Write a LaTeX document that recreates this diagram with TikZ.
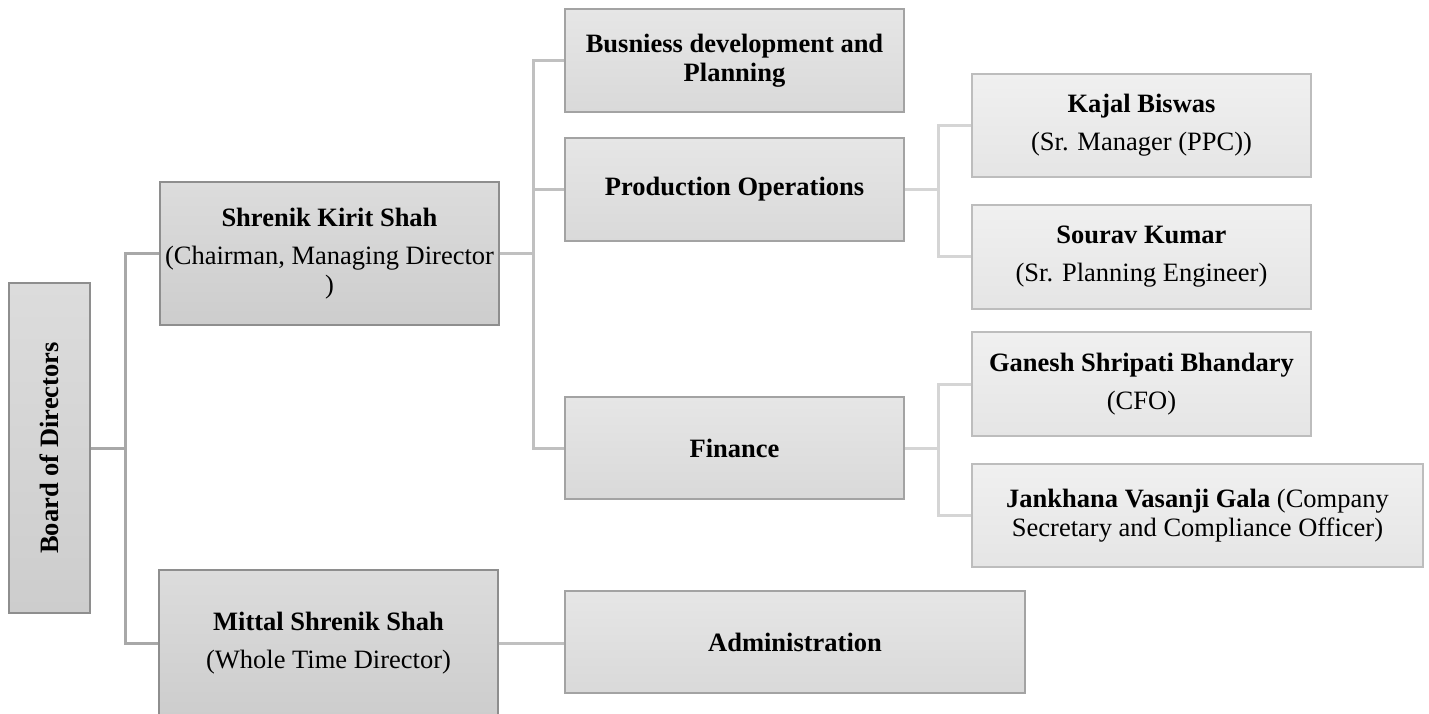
\documentclass[tikz,border=0pt]{standalone}
\usepackage{fontspec}
\setmainfont{Liberation Serif}
\usepackage{graphicx}
\usepackage{tikz}
\usetikzlibrary{positioning}
\definecolor{LevelOneTop}{HTML}{DCDCDC}
\definecolor{LevelOneBottom}{HTML}{CDCDCD}
\definecolor{LevelOneRule}{HTML}{8E8E8E}
\definecolor{LevelTwoTop}{HTML}{E6E6E6}
\definecolor{LevelTwoBottom}{HTML}{D9D9D9}
\definecolor{LevelTwoRule}{HTML}{A3A3A3}
\definecolor{LevelThreeTop}{HTML}{F0F0F0}
\definecolor{LevelThreeBottom}{HTML}{E5E5E5}
\definecolor{LevelThreeRule}{HTML}{BDBDBD}
\definecolor{LinkOne}{HTML}{A8A8A8}
\definecolor{LinkTwo}{HTML}{C0C0C0}
\definecolor{LinkThree}{HTML}{D5D5D5}

\begin{document}
\begin{tikzpicture}[x=1pt, y=-1pt, every node/.style={font=\fontsize{26.5}{29}\selectfont}]
  \tikzstyle{boxone}=[rectangle, draw=LevelOneRule, line width=1.8pt, top color=LevelOneTop,
  bottom color=LevelOneBottom, minimum width=339pt, align=center, inner sep=0pt]
  \tikzstyle{boxtwo}=[boxone, draw=LevelTwoRule, top color=LevelTwoTop, bottom color=LevelTwoBottom,
  minimum height=103pt]
  \tikzstyle{boxthree}=[boxone, draw=LevelThreeRule, top color=LevelThreeTop,
  bottom color=LevelThreeBottom, minimum height=104pt]
  \tikzstyle{linkone}=[draw=LinkOne, line width=3pt]
  \tikzstyle{linktwo}=[draw=LinkTwo, line width=3pt]
  \tikzstyle{linkthree}=[draw=LinkThree, line width=3pt]
  \useasboundingbox (0,0) rectangle (1429,713);
  % top level
  \node[boxone, minimum width=81pt, minimum height=330pt] (board) at (49.5,448)
    {\rotatebox{90}{\textbf{Board of Directors}}};
  % directors
  \node[boxone, minimum height=143pt] (shrenik) at (329.5,253.5)
    {\textbf{Shrenik Kirit Shah}\\[9pt](Chairman, Managing Director\\)};
  \node[boxone, minimum height=146pt] (mittal) at (328.5,643)
    {\textbf{Mittal Shrenik Shah}\\[9pt](Whole Time Director)};
  % departments
  \node[boxtwo] (busdev) at (734.5,60.5) {\textbf{Busniess development and}\\\textbf{Planning}};
  \node[boxtwo] (prodop) at (734.5,189.5) {\textbf{Production Operations}};
  \node[boxtwo, minimum height=102pt] (finance) at (734.5,448) {\textbf{Finance}};
  \node[boxtwo, minimum width=460pt, minimum height=102pt] (admin) at (795,642)
    {\textbf{Administration}};
  % officers
  \node[boxthree, minimum height=103pt] (kajal) at (1141.5,125.5)
    {\textbf{Kajal Biswas}\\[9pt](Sr. Manager (PPC))};
  \node[boxthree, below=26pt of kajal] (sourav)
    {\textbf{Sourav Kumar}\\[9pt](Sr. Planning Engineer)};
  \node[boxthree] (ganesh) at (1141.5,384)
    {\textbf{Ganesh Shripati Bhandary}\\[9pt](CFO)};
  \node[boxthree, minimum width=451pt, minimum height=103pt, below=26pt of ganesh.south west,
    anchor=north west] (jankhana)
    {\textbf{Jankhana Vasanji Gala} (Company\\Secretary and Compliance Officer)};
  % connectors
  \draw[linkone] (board.east) -- ++(35,0) |- (shrenik.west);
  \draw[linkone] (board.east) -- ++(35,0) |- (mittal.west);
  \draw[linktwo] (shrenik.east) -- ++(34,0) |- (busdev.west);
  \draw[linktwo] (shrenik.east) -- ++(34,0) |- (prodop.west);
  \draw[linktwo] (shrenik.east) -- ++(34,0) |- (finance.west);
  \draw[linktwo] (mittal.east) -- (mittal.east -| admin.west);
  \draw[linkthree] (prodop.east) -- ++(34,0) |- (kajal.west);
  \draw[linkthree] (prodop.east) -- ++(34,0) |- (sourav.west);
  \draw[linkthree] (finance.east) -- ++(34,0) |- (ganesh.west);
  \draw[linkthree] (finance.east) -- ++(34,0) |- (jankhana.west);
\end{tikzpicture}
\end{document}
